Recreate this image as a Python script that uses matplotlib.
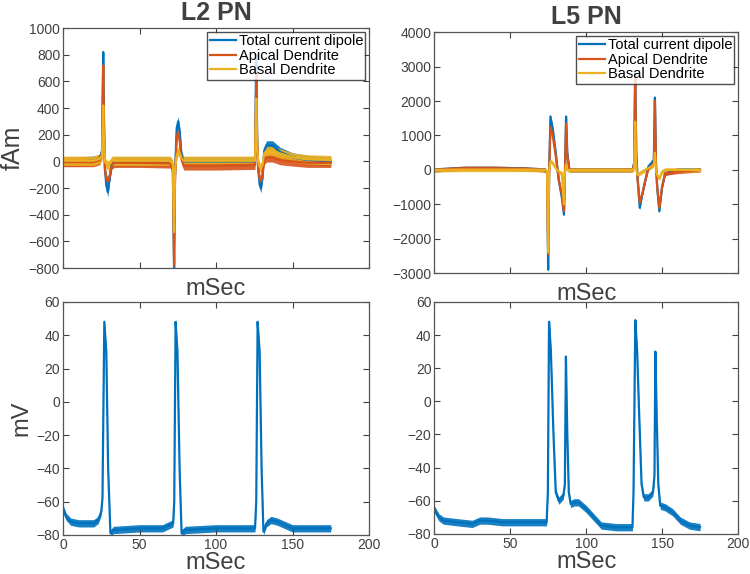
import numpy as np
import matplotlib.pyplot as plt

plt.rcParams['font.family'] = ['Liberation Sans', 'DejaVu Sans']

# ---- data ----
# L2 PN current dipole, fAm
l2_t = [0, 10, 20, 24, 25.5, 26.3, 26.8, 27.4, 28.3, 29.3, 30.5, 32, 34, 50, 70, 71.8, 72.6, 73.2, 74.3, 75.3, 76.3, 77.5, 79, 100, 125.5, 126.3, 126.9, 127.5, 128.5, 129.3, 130.3, 131.5, 133, 137, 142, 150, 160, 175]
l2_total = [0, 0, 5, 20, 80, 820, 300, -50, -180, -230, -120, -10, 0, 0, 0, -50, -800, -100, 250, 300, 220, 40, 0, 0, 0, 800, 200, -50, -170, -200, -130, 80, 120, 120, 70, 30, 10, 0]
l2_apical = [-5, -5, -5, 10, 60, 720, 250, -60, -130, -150, -110, -20, -10, -10, -15, -60, -780, -150, 180, 220, 150, 10, -30, -30, -25, 650, 150, -40, -130, -150, -110, 10, 30, 30, 10, 0, -10, -10]
l2_basal = [5, 5, 5, 20, 40, 420, 150, 0, -20, -30, -20, 5, 5, 5, 5, -20, -530, -60, 40, 80, 60, 20, 5, 5, 5, 470, 120, 0, -40, -50, -30, 60, 80, 80, 60, 30, 15, 10]

# L5 PN current dipole, fAm
l5_t = [0, 20, 40, 60, 73, 74.3, 75, 75.6, 76.5, 78, 80, 82, 84, 85.4, 86, 86.8, 87.6, 89, 91, 100, 120, 130.5, 131.6, 132.3, 133, 133.8, 135.3, 137, 139, 141, 143, 144.6, 145.3, 146, 146.8, 148.2, 150, 152, 160, 175]
l5_total = [0, 50, 50, 30, 0, -100, -2900, -200, 1550, 1200, 500, -300, -800, -1300, -200, 1550, 500, 0, 0, 0, 0, 0, 200, 2800, 500, -200, -1100, -700, -300, 100, 200, 300, 2100, 200, -500, -1200, -500, -100, 0, 0]
l5_apical = [0, 50, 50, 30, 0, -100, -2450, -200, 1250, 1000, 400, -300, -700, -1200, -200, 1350, 400, 0, 0, 0, 0, 0, 150, 2700, 400, -200, -950, -700, -300, 50, 100, 200, 2000, 100, -500, -1100, -500, -100, -50, 0]
l5_basal = [0, 10, 10, 10, 0, -50, -2400, -50, 250, 200, 50, -50, -100, -1000, -50, 150, 0, 0, 0, 0, 0, 0, 50, 1400, 0, -150, -100, -50, 0, 50, 100, 150, 500, 0, -150, -250, -50, 0, 0, 0]

# L2 PN membrane potential, mV
l2v_t = [0, 2, 5, 10, 20, 23, 25, 25.8, 27, 28.3, 29.5, 31, 33, 50, 65, 72, 72.7, 73.6, 74.8, 76.2, 77.5, 80, 100, 125.5, 126.3, 127.2, 128.5, 129.8, 131, 133, 136, 140, 145, 150, 160, 175]
l2v = [-64, -69, -72, -73, -73, -71, -66, -58, 48, 30, -40, -79, -77, -76, -76, -73, -60, 48, 30, -40, -79, -77, -76, -76, -60, 48, 30, -40, -78, -73, -71, -72, -74, -76, -76, -76]

# L5 PN membrane potential, mV
l5v_t = [0, 3, 6, 15, 25, 30, 35, 45, 60, 74, 74.8, 75.6, 76.8, 78.5, 80, 82, 85, 86, 86.7, 87.6, 88.6, 89.8, 92, 95, 100, 105, 110, 120, 130.5, 131.2, 132.4, 133.6, 135, 136.5, 138, 141, 144, 145, 145.6, 146.5, 147.5, 148.8, 152, 157, 162, 168, 175]
l5v = [-65, -70, -72, -73, -74, -72, -72, -73, -73, -73, -55, 48, 30, -20, -55, -60, -57, -50, 27, -20, -55, -62, -61, -61, -65, -70, -75, -76, -76, -55, 49, 30, -10, -50, -58, -58, -55, -45, 30, -10, -50, -63, -64, -67, -72, -75, -76]

legend_labels = ['Total current dipole', 'Apical Dendrite', 'Basal Dendrite']
colors = ['#0072BD', '#D95319', '#EDB120']
txt = '#404040'


def style(ax, ylim, yticks, xlabels=True):
    ax.set_xlim(0, 200)
    ax.set_ylim(*ylim)
    ax.set_xticks([0, 50, 100, 150, 200])
    ax.set_yticks(yticks)
    if not xlabels:
        ax.set_xticklabels([])
    ax.tick_params(direction='in', top=True, right=True, labelsize=10,
                   colors=txt, length=4, width=0.8, pad=2)
    for s in ax.spines.values():
        s.set_color('#555555')
        s.set_linewidth(0.9)
    ax.set_xlabel('mSec', fontsize=17, color=txt)


fig = plt.figure(figsize=(7.5, 5.74), dpi=100)
ax1 = fig.add_axes([0.084, 0.533, 0.408, 0.418])
ax2 = fig.add_axes([0.579, 0.524, 0.405, 0.420])
ax3 = fig.add_axes([0.084, 0.068, 0.408, 0.406])
ax4 = fig.add_axes([0.579, 0.070, 0.405, 0.404])

# current dipoles
for ax, t, series, nz in [(ax1, l2_t, [l2_total, l2_apical, l2_basal], 35),
                          (ax2, l5_t, [l5_total, l5_apical, l5_basal], 60)]:
    for vals, c, lab in zip(series, colors, legend_labels):
        v = np.array(vals)
        ax.fill_between(t, v - nz, v + nz, color=c, lw=0, alpha=0.9)
        ax.plot(t, v, color=c, lw=1.6, label=lab)
    leg = ax.legend(loc='upper right', fontsize=10.5, frameon=True, fancybox=False,
                    borderpad=0.15, labelspacing=0.05, handlelength=1.8,
                    handletextpad=0.2, borderaxespad=0.25)
    leg.get_frame().set_edgecolor('#222222')
    leg.get_frame().set_linewidth(1.0)
    ax.xaxis.set_label_coords(0.5, -0.04)

style(ax1, (-800, 1000), range(-800, 1001, 200), xlabels=False)
style(ax2, (-3000, 4000), range(-3000, 4001, 1000), xlabels=False)
ax1.set_ylabel('fAm', fontsize=18, color=txt)
ax1.yaxis.set_label_coords(-0.125, 0.5)
ax1.set_title('L2 PN', fontsize=18, fontweight='bold', color=txt, pad=6)
ax2.set_title('L5 PN', fontsize=18, fontweight='bold', color=txt, pad=6)

# membrane potentials
for ax, t, v in [(ax3, l2v_t, l2v), (ax4, l5v_t, l5v)]:
    v = np.array(v)
    ax.fill_between(t, v - 2.2, v + 2.2, color=colors[0], lw=0, alpha=0.9)
    ax.plot(t, v, color=colors[0], lw=1.6)
    style(ax, (-80, 60), range(-80, 61, 20))
    ax.xaxis.set_label_coords(0.5, -0.075)
ax3.set_ylabel('mV', fontsize=17, color=txt)
ax3.yaxis.set_label_coords(-0.1, 0.5)

fig.savefig('out.png', dpi=100)
